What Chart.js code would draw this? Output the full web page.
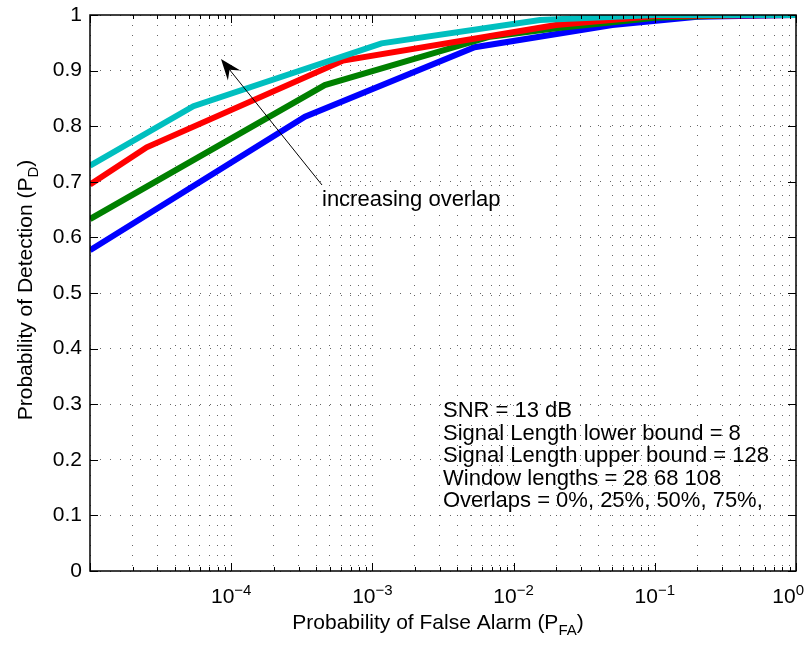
<!DOCTYPE html>
<html>
<head>
<meta charset="utf-8">
<script src="https://cdn.jsdelivr.net/npm/chart.js@4.4.1/dist/chart.umd.min.js"></script>
<style>
  html, body { margin: 0; padding: 0; background: #fff; }
  #wrap { width: 812px; height: 648px; position: relative; }
</style>
</head>
<body>
<div id="wrap"><canvas id="roc"></canvas></div>
<script>
const FONT = '"Liberation Sans", Arial, Helvetica, sans-serif';

// P_FA / P_D, one pair of arrays per overlap setting
const pfaBlue  = [1e-5, 3.33e-4, 5.3e-3, 5.0e-2, 0.2, 1];
const pdBlue   = [0.577, 0.817, 0.942, 0.982, 0.997, 1];
const pfaGreen = [1e-5, 4.6e-4, 6.8e-3, 2.0e-2, 0.1, 0.4, 1];
const pdGreen  = [0.633, 0.874, 0.961, 0.976, 0.995, 1, 1];
const pfaRed   = [1e-5, 2.52e-5, 6.2e-4, 2.0e-2, 0.1, 1];
const pdRed    = [0.695, 0.762, 0.918, 0.982, 0.998, 1];
const pfaCyan  = [1e-5, 5.4e-5, 1.16e-3, 1.54e-2, 0.1, 1];
const pdCyan   = [0.729, 0.836, 0.949, 0.991, 1, 1];

const overlapLabels = ['0%', '25%', '50%', '75%'];
const overlapColors = ['#0000ff', '#008000', '#ff0000', '#00bfbf'];

// axis ticks
const xDecades = [1e-5, 1e-4, 1e-3, 1e-2, 1e-1, 1];
const xDecadeExp = ['', '\u22124', '\u22123', '\u22122', '\u22121', '0'];
const yTicks = [0, 0.1, 0.2, 0.3, 0.4, 0.5, 0.6, 0.7, 0.8, 0.9, 1];

const infoLines = [
    'SNR = 13 dB',
    'Signal Length lower bound = 8',
    'Signal Length upper bound = 128',
    'Window lengths = 28 68 108',
    'Overlaps = 0%, 25%, 50%, 75%,'
];
const arrowText = 'increasing overlap';

// minor grid positions 1..9 x each decade
const xGrid = [];
xDecades.slice(0, -1).forEach(d => {
    for (let k = 1; k <= 9; k++) xGrid.push(d * k);
});
xGrid.push(1);

function isDecade(v) {
    return xDecades.some(d => Math.abs(v - d) / d < 1e-9);
}

const series = [
    { pfa: pfaCyan,  pd: pdCyan,  i: 3 },
    { pfa: pfaRed,   pd: pdRed,   i: 2 },
    { pfa: pfaGreen, pd: pdGreen, i: 1 },
    { pfa: pfaBlue,  pd: pdBlue,  i: 0 }
];

const datasets = series.map(s => ({
    label: overlapLabels[s.i],
    data: s.pfa.map((x, k) => ({ x, y: s.pd[k] })),
    borderColor: overlapColors[s.i],
    backgroundColor: overlapColors[s.i],
    borderWidth: 6,
    pointRadius: 0,
    showLine: true,
    fill: false,
    tension: 0,
    clip: 0
}));

const decorPlugin = {
    id: 'decor',
    afterDraw(chart) {
        const ctx = chart.ctx;
        const { left, right, top, bottom } = chart.chartArea;
        const xs = chart.scales.x, ys = chart.scales.y;
        ctx.save();

        // box + inward ticks
        ctx.strokeStyle = '#000';
        ctx.lineWidth = 1.5;
        ctx.strokeRect(left, top, right - left, bottom - top);
        ctx.lineWidth = 1;
        ctx.beginPath();
        xGrid.forEach(v => {
            const px = Math.round(xs.getPixelForValue(v)) + 0.5;
            const len = isDecade(v) ? 8 : 4;
            ctx.moveTo(px, bottom); ctx.lineTo(px, bottom - len);
            ctx.moveTo(px, top); ctx.lineTo(px, top + len);
        });
        yTicks.forEach(v => {
            const py = Math.round(ys.getPixelForValue(v)) + 0.5;
            ctx.moveTo(left, py); ctx.lineTo(left + 8, py);
            ctx.moveTo(right, py); ctx.lineTo(right - 8, py);
        });
        ctx.stroke();

        ctx.fillStyle = '#000';
        ctx.textAlign = 'left';
        ctx.textBaseline = 'alphabetic';

        // x tick labels 10^n
        xDecades.forEach((d, k) => {
            if (!xDecadeExp[k]) return;
            ctx.font = '21px ' + FONT;
            const w1 = ctx.measureText('10').width;
            ctx.font = '15px ' + FONT;
            const w2 = ctx.measureText(xDecadeExp[k]).width;
            const tot = w1 + w2;
            const cx = Math.min(xs.getPixelForValue(d), 804 - tot / 2);
            const x0 = cx - tot / 2;
            ctx.font = '21px ' + FONT;
            ctx.fillText('10', x0, 603);
            ctx.font = '15px ' + FONT;
            ctx.fillText(xDecadeExp[k], x0 + w1, 595);
        });

        // x title with subscript
        const xt = [['Probability of False Alarm (P', 21, 0], ['FA', 15, 6], [')', 21, 0]];
        let tw = 0;
        xt.forEach(p => { ctx.font = p[1] + 'px ' + FONT; tw += ctx.measureText(p[0]).width; });
        let tx = 438 - tw / 2;
        xt.forEach(p => {
            ctx.font = p[1] + 'px ' + FONT;
            ctx.fillText(p[0], tx, 629 + p[2]);
            tx += ctx.measureText(p[0]).width;
        });

        // y title rotated
        const yt = [['Probability of Detection (P', 21, 0], ['D', 15, 6], [')', 21, 0]];
        tw = 0;
        yt.forEach(p => { ctx.font = p[1] + 'px ' + FONT; tw += ctx.measureText(p[0]).width; });
        ctx.save();
        ctx.translate(32, 290);
        ctx.rotate(-Math.PI / 2);
        tx = -tw / 2;
        yt.forEach(p => {
            ctx.font = p[1] + 'px ' + FONT;
            ctx.fillText(p[0], tx, p[2]);
            tx += ctx.measureText(p[0]).width;
        });
        ctx.restore();

        // annotation arrow
        const sx = 322, sy = 185, ex = 221, ey = 59;
        const L = Math.hypot(ex - sx, ey - sy);
        const ux = (ex - sx) / L, uy = (ey - sy) / L;
        const nx = -uy, ny = ux;
        const hl = 21, hw = 8;
        ctx.beginPath();
        ctx.moveTo(sx, sy);
        ctx.lineTo(ex - ux * hl * 0.6, ey - uy * hl * 0.6);
        ctx.stroke();
        ctx.beginPath();
        ctx.moveTo(ex, ey);
        ctx.lineTo(ex - ux * hl + nx * hw, ey - uy * hl + ny * hw);
        ctx.lineTo(ex - ux * hl * 0.65, ey - uy * hl * 0.65);
        ctx.lineTo(ex - ux * hl - nx * hw, ey - uy * hl - ny * hw);
        ctx.closePath();
        ctx.fill();

        ctx.font = '22px ' + FONT;
        ctx.fillText(arrowText, 322, 206);

        infoLines.forEach((t, k) => ctx.fillText(t, 443, 417 + k * 22.5));

        ctx.restore();
    }
};

new Chart(document.getElementById('roc'), {
    type: 'scatter',
    data: { datasets },
    options: {
        responsive: true,
        maintainAspectRatio: false,
        animation: false,
        events: [],
        layout: { padding: { left: 0, right: 16, top: 15, bottom: 0 } },
        plugins: {
            legend: { display: false },
            tooltip: { enabled: false }
        },
        scales: {
            x: {
                type: 'logarithmic',
                min: 1e-5,
                max: 1,
                afterBuildTicks: s => { s.ticks = xGrid.map(v => ({ value: v, major: isDecade(v) })); },
                afterFit: s => { s.height = 77; s.paddingLeft = 0; s.paddingRight = 0; },
                ticks: { display: false },
                grid: { color: '#666', lineWidth: 1, drawTicks: false },
                border: { display: false, dash: [1, 9] }
            },
            y: {
                min: 0,
                max: 1,
                afterBuildTicks: s => { s.ticks = yTicks.map(v => ({ value: v })); },
                afterFit: s => { s.width = 90; s.paddingTop = 0; s.paddingBottom = 0; },
                ticks: {
                    autoSkip: false,
                    padding: 8,
                    color: '#000',
                    font: { family: FONT, size: 21 },
                    callback: v => String(Math.round(v * 10) / 10)
                },
                grid: { color: '#666', lineWidth: 1, drawTicks: false },
                border: { display: false, dash: [1, 9] }
            }
        }
    },
    plugins: [decorPlugin]
});
</script>
</body>
</html>
